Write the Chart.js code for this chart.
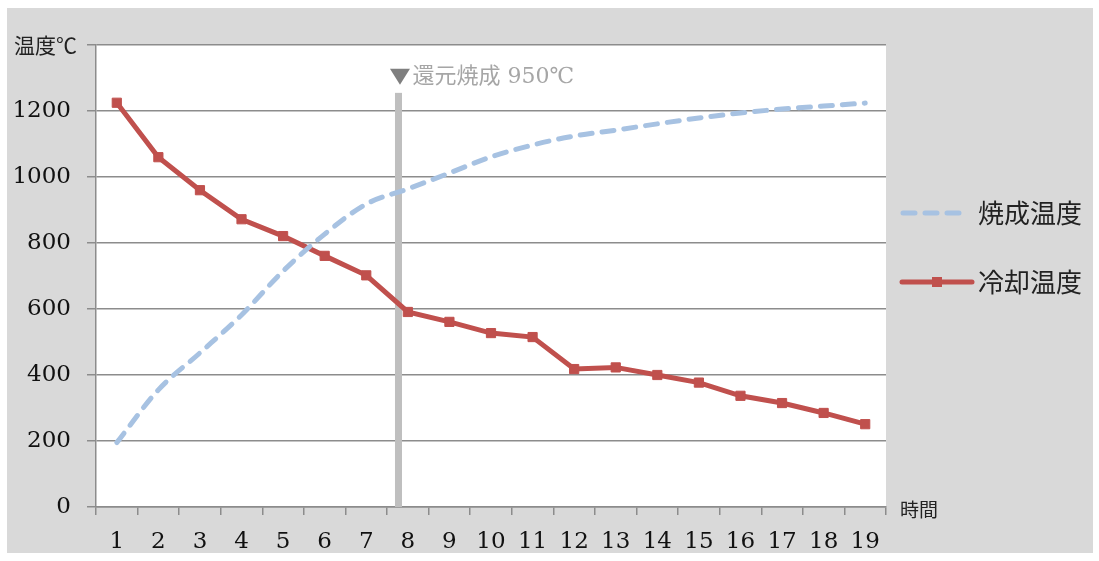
<!DOCTYPE html>
<html>
<head>
<meta charset="utf-8">
<script src="https://cdn.jsdelivr.net/npm/chart.js@4/dist/chart.umd.min.js"></script>
<style>
  body { margin: 0; background: #fff; }
  #wrap { position: absolute; left: 7px; top: 8px; width: 1086px; height: 545px; background: #d9d9d9; }
</style>
</head>
<body>
<div id="wrap"><canvas id="chart"></canvas></div>
<script>
/* ---------- DATA ---------- */
const hours = ['1','2','3','4','5','6','7','8','9','10','11','12','13','14','15','16','17','18','19'];
const firingTemp  = [195, 355, 467, 582, 715, 827, 918, 964, 1012, 1061, 1097, 1124, 1142, 1161, 1179, 1194, 1206, 1215, 1224];
const coolingTemp = [1225, 1060, 960, 872, 821, 761, 702, 591, 561, 527, 515, 418, 423, 400, 377, 337, 315, 285, 251];
const seriesNames = ['焼成温度', '冷却温度'];
const yMax = 1400;
const yStep = 200;
const yAxisTitle = '温度℃';
const xAxisTitle = '時間';
const reductionLabel = '還元焼成 950℃';
const reductionAt = 6.775;   // position between hour 7 and 8 (category index)
const reductionTop = 1255;

const BLUE = '#a7c2e2';
const RED  = '#c0504d';
const GRID = '#8c8c8c';
const SERIF = '"DejaVu Serif", "Noto Sans CJK JP", serif';
const CJK = '"Noto Sans CJK JP", sans-serif';

/* ---------- PLUGIN: plot bg, band, labels, legend ---------- */
const decorations = {
  id: 'decorations',
  beforeDraw(chart) {
    const { ctx, chartArea: a } = chart;
    ctx.save();
    ctx.fillStyle = '#fff';
    ctx.fillRect(a.left, a.top, a.right - a.left, a.bottom - a.top);
    ctx.restore();
  },
  beforeDatasetsDraw(chart) {
    const { ctx, scales: { x, y } } = chart;
    const bx = x.getPixelForValue(reductionAt);
    ctx.save();
    ctx.fillStyle = '#bfbfbf';
    ctx.fillRect(bx - 3.5, y.getPixelForValue(reductionTop), 7, y.getPixelForValue(0) - y.getPixelForValue(reductionTop));
    ctx.restore();
  },
  afterDraw(chart) {
    const { ctx, chartArea: a, scales: { x, y } } = chart;
    ctx.save();

    // reduction firing annotation
    const bx = x.getPixelForValue(reductionAt);
    const ty = y.getPixelForValue(reductionTop) - 16;
    ctx.textBaseline = 'middle';
    ctx.fillStyle = '#7f7f7f';
    ctx.beginPath();
    ctx.moveTo(bx - 8.5, ty - 8);
    ctx.lineTo(bx + 11.5, ty - 8);
    ctx.lineTo(bx + 1.5, ty + 8);
    ctx.closePath();
    ctx.fill();
    ctx.fillStyle = '#a6a6a6';
    ctx.font = '22px ' + SERIF;
    ctx.textAlign = 'left';
    ctx.fillText(reductionLabel, bx + 14, ty);

    // axis titles
    ctx.fillStyle = '#222';
    ctx.font = '21px ' + CJK;
    ctx.textAlign = 'right';
    ctx.fillText(yAxisTitle, a.left - 19, y.getPixelForValue(yMax));
    ctx.textAlign = 'left';
    ctx.font = '19px ' + CJK;
    ctx.fillText(xAxisTitle, a.right + 14, a.bottom + 3);

    // legend
    const lx = a.right + 14;
    const ly1 = a.top + 168;
    const ly2 = a.top + 237;
    ctx.lineWidth = 5;
    ctx.lineCap = 'round';
    ctx.strokeStyle = BLUE;
    ctx.setLineDash([12, 10]);
    ctx.beginPath();
    ctx.moveTo(lx + 3, ly1);
    ctx.lineTo(lx + 64, ly1);
    ctx.stroke();
    ctx.setLineDash([]);
    ctx.strokeStyle = RED;
    ctx.beginPath();
    ctx.moveTo(lx + 2, ly2);
    ctx.lineTo(lx + 72, ly2);
    ctx.stroke();
    ctx.fillStyle = RED;
    ctx.fillRect(lx + 32, ly2 - 5, 10, 10);

    ctx.fillStyle = '#222';
    ctx.font = '26px ' + CJK;
    ctx.fillText(seriesNames[0], lx + 78, ly1);
    ctx.fillText(seriesNames[1], lx + 78, ly2);
    ctx.restore();
  }
};

/* ---------- CHART ---------- */
new Chart(document.getElementById('chart'), {
  type: 'line',
  data: {
    labels: hours,
    datasets: [
      {
        label: seriesNames[0],
        data: firingTemp,
        borderColor: BLUE,
        borderWidth: 5,
        borderDash: [12, 10],
        borderCapStyle: 'round',
        cubicInterpolationMode: 'monotone',
        pointRadius: 0,
        fill: false
      },
      {
        label: seriesNames[1],
        data: coolingTemp,
        borderColor: RED,
        backgroundColor: RED,
        borderWidth: 5,
        tension: 0,
        pointStyle: 'rect',
        pointRadius: 6.5,
        pointBorderWidth: 1,
        pointBorderColor: RED,
        pointBackgroundColor: RED,
        fill: false
      }
    ]
  },
  plugins: [decorations],
  options: {
    responsive: true,
    maintainAspectRatio: false,
    animation: false,
    layout: { padding: { top: 37, right: 207, left: 0, bottom: 0 } },
    plugins: { legend: { display: false }, tooltip: { enabled: false } },
    scales: {
      x: {
        offset: true,
        grid: { offset: true, drawOnChartArea: false, drawTicks: true, tickLength: 8, color: GRID, lineWidth: 1.5 },
        border: { display: true, color: GRID, width: 1.5 },
        ticks: { color: '#111', font: { family: SERIF, size: 23 }, padding: 13, maxRotation: 0, autoSkip: false },
        afterFit(scale) { scale.height = 46; }
      },
      y: {
        min: 0,
        max: yMax,
        grid: { color: GRID, lineWidth: 1.5, tickLength: 9 },
        border: { display: true, color: GRID, width: 1.5 },
        ticks: {
          stepSize: yStep,
          color: '#111',
          font: { family: SERIF, size: 23 },
          padding: 16,
          callback: v => (v === yMax ? '' : v)
        },
        afterFit(scale) { scale.width = 89; }
      }
    }
  }
});
</script>
</body>
</html>
